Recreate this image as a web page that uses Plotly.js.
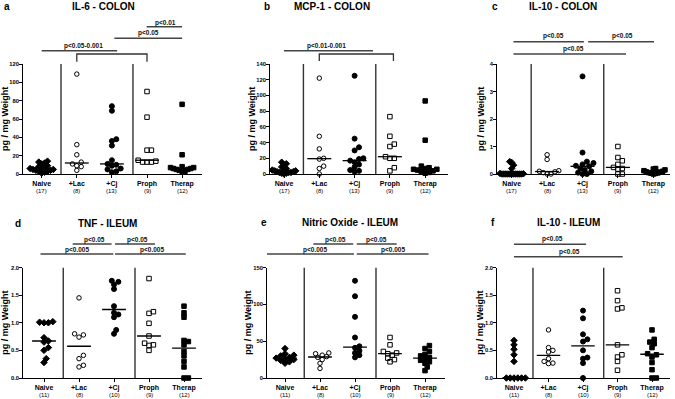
<!DOCTYPE html>
<html lang="en">
<head>
    <meta charset="UTF-8">
    <title>Cytokines - colon and ileum</title>
    <script src="https://cdn.plot.ly/plotly-3.0.1.min.js"></script>
    <style>
        body { margin: 0; background: #fff; }
        #chart { width: 675px; height: 399px; }
    </style>
</head>
<body>
    <div id="chart"></div>

    <script>
        // groups on the x axis, and the n shown under each label
        const groups = ['Naive', '+Lac', '+Cj', 'Proph', 'Therap'];
        const nColon = [17, 8, 13, 9, 12];
        const nIleum = [11, 8, 10, 9, 12];

        // pg / mg weight, one list per group
        const il6Colon = [
            [14, 13, 12, 11, 9, 8, 7, 6, 6, 5, 5, 4, 4, 3, 3, 2, 1],
            [109, 32, 21, 13, 11, 9, 8, 4],
            [74, 69, 38, 36, 31, 15, 11, 10, 9, 6, 5, 3, 2],
            [90, 62, 26, 26, 15, 14, 13, 13, 13],
            [76, 21, 8, 7, 7, 6, 6, 5, 5, 4, 3, 3]
        ];
        const mcp1Colon = [
            [15, 13, 12, 9, 7, 6, 5, 4, 4, 3, 3, 2, 2, 2, 1, 1, 0],
            [122, 48, 32, 20, 19, 10, 7, 0],
            [125, 45, 34, 30, 20, 19, 17, 15, 12, 9, 5, 4, 3],
            [73, 48, 38, 35, 22, 20, 20, 8, 4],
            [93, 43, 10, 8, 7, 6, 6, 5, 4, 3, 2, 1]
        ];
        const il10Colon = [
            [0.45, 0.42, 0.32, 0.2, 0.02, 0.01, 0, 0, 0, 0, 0, 0, 0, 0, 0, 0, 0],
            [0.7, 0.53, 0.12, 0.1, 0.08, 0.05, 0, 0],
            [3.55, 0.78, 0.45, 0.4, 0.35, 0.3, 0.28, 0.2, 0.15, 0.1, 0.05, 0, 0],
            [1.0, 0.6, 0.48, 0.35, 0.24, 0.2, 0.18, 0, 0],
            [0.2, 0.18, 0.15, 0.12, 0.1, 0.08, 0.07, 0.05, 0.04, 0.03, 0.02, 0]
        ];
        const tnfIleum = [
            [1.02, 1.01, 1.0, 1.0, 0.73, 0.67, 0.65, 0.55, 0.5, 0.35, 0.28],
            [1.45, 0.8, 0.78, 0.74, 0.41, 0.35, 0.23, 0.2],
            [1.76, 1.74, 1.69, 1.61, 1.3, 1.18, 1.15, 1.1, 0.87, 0.8],
            [1.8, 1.2, 1.17, 0.99, 0.76, 0.63, 0.6, 0.59, 0.5],
            [1.3, 1.18, 1.1, 0.68, 0.66, 0.6, 0.48, 0.4, 0.3, 0.2, 0, 0]
        ];
        const noIleum = [
            [40, 33, 31, 30, 28, 27, 26, 25, 24, 22, 20],
            [34, 33, 31, 29, 28, 25, 20, 13],
            [132, 111, 83, 55, 43, 41, 37, 34, 31, 28],
            [55, 45, 36, 34, 33, 31, 27, 25, 22],
            [44, 40, 36, 32, 30, 28, 26, 24, 22, 20, 15, 10]
        ];
        const il10Ileum = [
            [0.68, 0.6, 0.52, 0.42, 0.3, 0, 0, 0, 0, 0, 0],
            [0.87, 0.55, 0.5, 0.47, 0.35, 0.3, 0.27, 0.26],
            [1.22, 1.08, 0.79, 0.7, 0.66, 0.5, 0.37, 0.35, 0.27, 0],
            [1.58, 1.4, 1.27, 1.25, 0.6, 0.42, 0.38, 0.3, 0.14],
            [0.87, 0.7, 0.65, 0.62, 0.55, 0.44, 0.42, 0.38, 0.28, 0.15, 0, 0]
        ];

        const W = 675, H = 399;
        const FONT = 'Liberation Sans, Arial, sans-serif';
        const markers = [
            { symbol: 'diamond', size: 5 },
            { symbol: 'circle-open', size: 4.5 },
            { symbol: 'circle', size: 5 },
            { symbol: 'square-open', size: 4.5 },
            { symbol: 'square', size: 4.5 }
        ];

        // panel geometry in pixels (left/right of x axis, top/bottom of y axis)
        const panels = [
            { letter: 'a', title: 'IL-6 - COLON', data: il6Colon, n: nColon, ymax: 120, dtick: 20, fmt: 'd',
              l: 23, r: 202, top: 64, bot: 174, cat0: 41.7, sp: 35.1, letterX: 7, titleX: 103, titleY: 6, ytX: 5,
              marks: [
                  { x0: 0, x1: 2.15, y: 50.7, text: 'p&lt;0.05-0.001', tx: 1.19, ty: 45.5 },
                  { bracket: true, x0: 1, x1: 3, y: 54, y2: 61.7 },
                  { x0: 2.07, x1: 4.0, y: 38.3, text: 'p&lt;0.05', tx: 3.04, ty: 33.3 },
                  { x0: 2.99, x1: 4.0, y: 26.7, text: 'p&lt;0.01', tx: 3.54, ty: 22.7 }
              ] },
            { letter: 'b', title: 'MCP-1 - COLON', data: mcp1Colon, n: nColon, ymax: 140, dtick: 20, fmt: 'd',
              l: 270, r: 448, top: 64, bot: 174, cat0: 284, sp: 35.3, letterX: 267, titleX: 332, titleY: 6, ytX: 252,
              marks: [
                  { x0: 0, x1: 2.52, y: 50.7, text: 'p&lt;0.01-0.001', tx: 1.2, ty: 45.5 },
                  { bracket: true, x0: 1, x1: 3.1, y: 54, y2: 61 }
              ] },
            { letter: 'c', title: 'IL-10 - COLON', data: il10Colon, n: nColon, ymax: 4, dtick: 1, fmt: 'd',
              l: 497, r: 670, top: 64, bot: 174, cat0: 511.7, sp: 35.4, letterX: 495, titleX: 563, titleY: 6, ytX: 481,
              marks: [
                  { x0: 0.05, x1: 2.04, y: 41.7, text: 'p&lt;0.05', tx: 1.18, ty: 36.5 },
                  { x0: 2.16, x1: 4.02, y: 41.7, text: 'p&lt;0.05', tx: 3.13, ty: 36.5 },
                  { x0: 0.05, x1: 3.23, y: 54, text: 'p&lt;0.05', tx: 1.74, ty: 49.3 }
              ] },
            { letter: 'd', title: 'TNF - ILEUM', data: tnfIleum, n: nIleum, ymax: 2, dtick: 0.5, fmt: '.1f',
              l: 23, r: 202, top: 267.5, bot: 378, cat0: 44, sp: 35, letterX: 18, titleX: 107, titleY: 223, ytX: 5,
              marks: [
                  { x0: 0.82, x1: 1.93, y: 244, text: 'p&lt;0.05', tx: 1.44, ty: 240 },
                  { x0: 2.03, x1: 3.17, y: 244, text: 'p&lt;0.05', tx: 2.68, ty: 240 },
                  { x0: -0.1, x1: 1.98, y: 254, text: 'p&lt;0.005', tx: 0.95, ty: 250.3 },
                  { x0: 2.03, x1: 4.05, y: 254, text: 'p&lt;0.005', tx: 3.08, ty: 250.3 }
              ] },
            { letter: 'e', title: 'Nitric Oxide - ILEUM', data: noIleum, n: nIleum, ymax: 150, dtick: 50, fmt: 'd',
              l: 267, r: 445, top: 267.5, bot: 378, cat0: 285, sp: 35, letterX: 264, titleX: 350, titleY: 222, ytX: 248,
              marks: [
                  { x0: 0.81, x1: 1.95, y: 244, text: 'p&lt;0.05', tx: 1.43, ty: 240 },
                  { x0: 2.05, x1: 3.19, y: 244, text: 'p&lt;0.05', tx: 2.62, ty: 240 },
                  { x0: -0.52, x1: 1.97, y: 254, text: 'p&lt;0.005', tx: 0.86, ty: 250.3 },
                  { x0: 2.05, x1: 4.1, y: 254, text: 'p&lt;0.005', tx: 3.09, ty: 250.3 }
              ] },
            { letter: 'f', title: 'IL-10 - ILEUM', data: il10Ileum, n: nIleum, ymax: 2, dtick: 0.5, fmt: '.1f',
              l: 497, r: 670, top: 267.5, bot: 378, cat0: 514, sp: 34.5, letterX: 493, titleX: 568, titleY: 222, ytX: 480,
              marks: [
                  { x0: 0, x1: 2.09, y: 244.3, text: 'p&lt;0.05', tx: 1.12, ty: 239.3 },
                  { x0: 0, x1: 3.15, y: 256.7, text: 'p&lt;0.05', tx: 1.6, ty: 251.7 }
              ] }
        ];

        function median(v) {
            const s = v.slice().sort((a, b) => a - b);
            const m = Math.floor(s.length / 2);
            return s.length % 2 ? s[m] : (s[m - 1] + s[m]) / 2;
        }

        // simple beeswarm: spread points sideways when they would overlap (in pixels),
        // then squeeze so a group never gets wider than its median bar
        function swarm(vals, pxY, pxX, d, maxOff) {
            const order = vals.map((v, i) => i).sort((a, b) => vals[a] - vals[b]);
            const placed = [];
            const off = new Array(vals.length).fill(0);
            order.forEach(i => {
                const y = vals[i] * pxY;
                for (let k = 0; k < 60; k++) {
                    const dx = (k % 2 ? 1 : -1) * Math.ceil(k / 2) * d * 0.5;
                    const hit = placed.some(p => (p.x - dx) ** 2 + (p.y - y) ** 2 < d * d * 0.95);
                    if (!hit) {
                        placed.push({ x: dx, y: y });
                        off[i] = dx / pxX;
                        break;
                    }
                }
            });
            const widest = Math.max(...off.map(Math.abs));
            const f = widest > maxOff ? maxOff / widest : 1;
            return off.map(o => o * f);
        }

        const px = p => p / W;
        const py = p => 1 - p / H;

        let data = [];
        let layout = {
            width: W, height: H,
            margin: { l: 0, r: 0, t: 0, b: 0 },
            paper_bgcolor: '#fff', plot_bgcolor: 'rgba(0,0,0,0)',
            showlegend: false,
            font: { family: FONT, color: '#000' },
            shapes: [], annotations: []
        };

        panels.forEach((p, k) => {
            const s = k === 0 ? '' : String(k + 1);
            const xa = 'x' + s, ya = 'y' + s;
            const xr = [(p.l - p.cat0) / p.sp, (p.r - p.cat0) / p.sp];
            const pxY = (p.bot - p.top) / p.ymax;

            layout['xaxis' + s] = {
                domain: [px(p.l), px(p.r)], anchor: ya, range: xr, fixedrange: true,
                showgrid: false, zeroline: false, showline: true, linecolor: '#000', linewidth: 1.3,
                ticks: 'outside', ticklen: 2.5, tickwidth: 1, tickcolor: '#000',
                tickvals: [0, 1, 2, 3, 4], ticktext: groups,
                tickfont: { size: 7, family: FONT, color: '#000', weight: 'bold' }
            };
            layout['yaxis' + s] = {
                domain: [py(p.bot), py(p.top)], anchor: xa, range: [0, p.ymax], fixedrange: true,
                showgrid: false, zeroline: false, showline: true, linecolor: '#000', linewidth: 1.3,
                ticks: 'outside', ticklen: 2.5, tickwidth: 1, tickcolor: '#000',
                dtick: p.dtick, tick0: 0, tickformat: p.fmt, ticklabelstandoff: -1,
                tickfont: { size: 5.8, family: FONT, color: '#000', weight: 'bold' }
            };

            p.data.forEach((vals, g) => {
                const off = swarm(vals, pxY, p.sp, 4.4, 0.33);
                data.push({
                    type: 'scatter', mode: 'markers', xaxis: xa, yaxis: ya,
                    x: vals.map((v, i) => g + off[i]), y: vals,
                    cliponaxis: false, hoverinfo: 'y',
                    marker: { symbol: markers[g].symbol, size: markers[g].size, color: '#000',
                              line: { color: '#000', width: 1 } }
                });
                const m = median(vals);
                data.push({
                    type: 'scatter', mode: 'lines', xaxis: xa, yaxis: ya,
                    x: [g - 0.34, g + 0.34], y: [m, m], cliponaxis: false, hoverinfo: 'skip',
                    line: { color: '#000', width: 1.3 }
                });
                // group size under the label
                layout.annotations.push({ xref: xa, yref: 'paper', x: g, y: py(p.bot + 17), text: '(' + p.n[g] + ')',
                                          showarrow: false, xanchor: 'center', yanchor: 'middle',
                                          font: { size: 6, family: FONT, color: '#000' } });
            });

            // vertical separators between the group blocks
            [0.55, 2.6].forEach(xv => {
                layout.shapes.push({ type: 'line', xref: xa, yref: ya, x0: xv, x1: xv, y0: 0, y1: p.ymax,
                                     line: { color: '#333', width: 1.4 } });
            });

            // significance lines and brackets
            p.marks.forEach(mk => {
                if (mk.bracket) {
                    layout.shapes.push({ type: 'path', xref: xa, yref: 'paper',
                        path: 'M ' + mk.x0 + ',' + py(mk.y2) + ' L ' + mk.x0 + ',' + py(mk.y) +
                              ' L ' + mk.x1 + ',' + py(mk.y) + ' L ' + mk.x1 + ',' + py(mk.y2),
                        line: { color: '#333', width: 1.3 } });
                    return;
                }
                layout.shapes.push({ type: 'line', xref: xa, yref: 'paper', x0: mk.x0, x1: mk.x1,
                                     y0: py(mk.y), y1: py(mk.y), line: { color: '#444', width: 1.4 } });
                layout.annotations.push({ xref: xa, yref: 'paper', x: mk.tx, y: py(mk.ty), text: mk.text,
                                          showarrow: false, xanchor: 'center', yanchor: 'middle',
                                          font: { size: 6.5, family: FONT, color: '#111', weight: 'bold' } });
            });

            layout.annotations.push(
                { xref: 'paper', yref: 'paper', x: px(p.letterX), y: py(p.titleY), text: p.letter,
                  showarrow: false, xanchor: 'center', yanchor: 'middle',
                  font: { size: 10, family: FONT, weight: 'bold' } },
                { xref: 'paper', yref: 'paper', x: px(p.titleX), y: py(p.titleY), text: p.title,
                  showarrow: false, xanchor: 'center', yanchor: 'middle',
                  font: { size: 10, family: FONT, weight: 'bold' } },
                { xref: 'paper', yref: 'paper', x: px(p.ytX), y: py((p.top + p.bot) / 2), text: 'pg / mg Weight',
                  textangle: -90, showarrow: false, xanchor: 'center', yanchor: 'middle',
                  font: { size: 9, family: FONT, weight: 'bold' } }
            );
        });

        Plotly.newPlot('chart', data, layout, { staticPlot: true });
    </script>
</body>
</html>
